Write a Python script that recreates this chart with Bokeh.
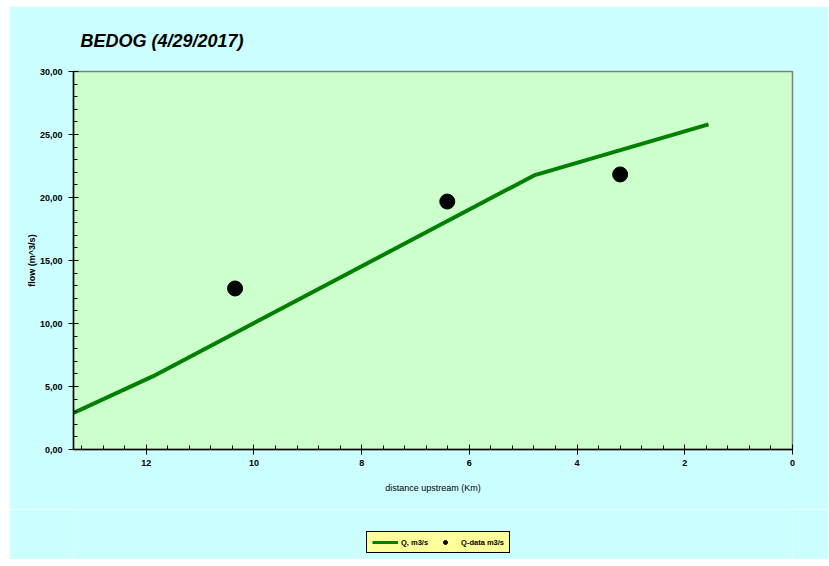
from bokeh.plotting import figure
from bokeh.models import FixedTicker, Range1d, Legend, LegendItem, Title
from bokeh.layouts import column
from bokeh.embed import file_html
from bokeh.resources import INLINE

# data
line_x = [13.35, 11.88, 4.80, 1.56]
line_q = [2.90, 5.80, 21.75, 25.80]
data_x = [10.35, 6.41, 3.20]
data_q = [12.78, 19.68, 21.83]

x_ticks = [12, 10, 8, 6, 4, 2, 0]
x_tick_labels = ["12", "10", "8", "6", "4", "2", "0"]
x_minor = [round(i * 0.4, 1) for i in range(0, 34)]
y_ticks = [0, 5, 10, 15, 20, 25, 30]
y_tick_labels = ["0,00", "5,00", "10,00", "15,00", "20,00", "25,00", "30,00"]
y_minor = list(range(0, 31))

series_labels = ["Q, m3/s", "Q-data m3/s"]

FONT = "'Liberation Sans Narrow', 'Liberation Sans', Arial, sans-serif"
CYAN = "#CCFFFF"

p = figure(frame_width=719, frame_height=378, output_backend="svg", toolbar_location=None,
           x_range=Range1d(13.35, 0), y_range=Range1d(0, 30),
           min_border_left=64, min_border_right=36, min_border_top=65, min_border_bottom=60)
p.background_fill_color = "#CCFFCC"
p.border_fill_color = CYAN
p.outline_line_color = "#808080"
p.outline_line_width = 1.5
p.xgrid.visible = False
p.ygrid.visible = False

title = Title(text="BEDOG (4/29/2017)", align="left", offset=7, standoff=41,
              text_font="'Liberation Sans', Arial, sans-serif", text_font_size="18px",
              text_font_style="bold italic", text_color="black")
p.add_layout(title, "above")

l1 = p.line(line_x, line_q, line_color="#008000", line_width=4)
c1 = p.scatter(data_x, data_q, size=15, fill_color="black", line_color="black")

for ax, ticks, labels, minor in ((p.xaxis[0], x_ticks, x_tick_labels, x_minor),
                                 (p.yaxis[0], y_ticks, y_tick_labels, y_minor)):
    ax.ticker = FixedTicker(ticks=ticks, minor_ticks=minor)
    ax.major_label_overrides = {t: l for t, l in zip(ticks, labels)}
    ax.axis_line_color = "black"
    ax.axis_line_width = 1.5
    ax.major_tick_in = 5
    ax.major_tick_out = 5
    ax.minor_tick_in = 4
    ax.minor_tick_out = 0
    ax.major_tick_line_color = "black"
    ax.minor_tick_line_color = "black"
    ax.major_label_text_font = FONT
    ax.major_label_text_font_size = "9px"
    ax.major_label_text_font_style = "bold"
    ax.major_label_text_color = "black"
    ax.axis_label_text_font = FONT
    ax.axis_label_text_font_size = "9px"
    ax.axis_label_text_font_style = "bold"
    ax.axis_label_text_color = "black"

p.xaxis.axis_label = "distance upstream (Km)"
p.xaxis.major_label_standoff = 5
p.xaxis.axis_label_standoff = 14
p.xaxis.axis_label_text_font_style = "normal"
p.yaxis.axis_label = "flow (m^3/s)"
p.yaxis.major_label_standoff = 6
p.yaxis.axis_label_standoff = 0

# legend strip below the chart (its range keeps the proxy marks out of view)
p2 = figure(width=819, height=50, output_backend="svg", toolbar_location=None,
            x_range=Range1d(-1, 0), y_range=Range1d(-1, 0),
            x_axis_type=None, y_axis_type=None,
            min_border_left=0, min_border_right=0, min_border_top=0, min_border_bottom=0)
p2.background_fill_color = CYAN
p2.border_fill_color = CYAN
p2.outline_line_color = None
p2.xgrid.visible = False
p2.ygrid.visible = False
lp = p2.line(x=line_x, y=line_q, line_color="#008000", line_width=3)
cp = p2.scatter(x=data_x, y=data_q, size=5, fill_color="black", line_color="black")

legend = Legend(items=[LegendItem(label=series_labels[0], renderers=[lp]),
                       LegendItem(label=series_labels[1], renderers=[cp])],
                orientation="horizontal", location=(293, 6),
                background_fill_color="#FFFF99", background_fill_alpha=1,
                border_line_color="black", border_line_width=1, border_line_alpha=1,
                label_text_font=FONT, label_text_font_size="7.5px",
                label_text_font_style="bold", label_text_color="black",
                glyph_width=26, glyph_height=10, label_height=10,
                padding=5, spacing=4, margin=0, label_standoff=3)
p2.add_layout(legend, "center")

layout = column(p, p2, spacing=0, margin=(6, 0, 0, 9))
open("out.html", "w").write(file_html(layout, INLINE))
